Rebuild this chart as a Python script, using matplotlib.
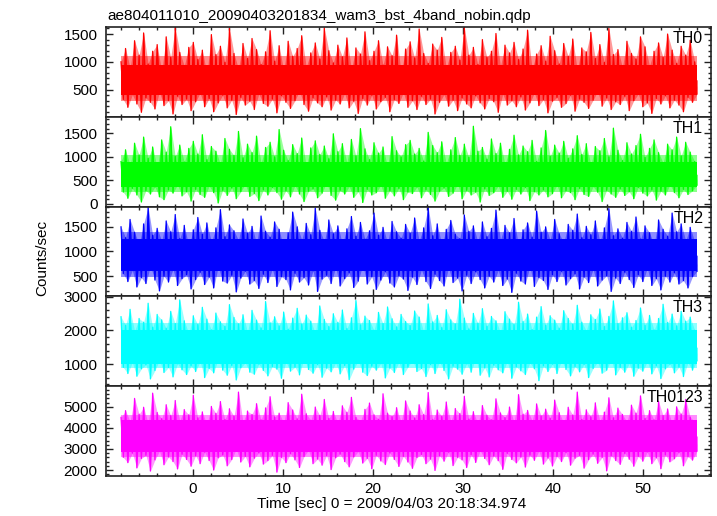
import numpy as np
import matplotlib
matplotlib.use("Agg")
import matplotlib.pyplot as plt
from matplotlib.ticker import MultipleLocator

# =====================================================
# DATA (max / min counts of each short chunk)
# =====================================================

t_start = -8.0
t_stop = 56.0

th0_hi = [1000, 1240, 890, 1380, 1120, 1520, 960, 1190, 1310, 820, 1450, 1080, 1620, 1170, 930, 1260,
          1350, 1040, 1210, 780, 1490, 1130, 1280, 990, 1600, 1150, 870, 1330, 1060, 1420, 1220, 950,
          1180, 1560, 1010, 1290, 840, 1370, 1100, 1240, 1470, 910, 1160, 1340, 1050, 1610, 1200, 980,
          1300, 1090, 1430, 860, 1250, 1140, 1540, 1020, 1190, 1380, 940, 1270, 1110, 1480, 800, 1230,
          1360, 1070, 1590, 1150, 970, 1320, 1210, 1440, 890, 1170, 1280, 1030, 1620, 1120, 1260, 950,
          1400, 1080, 1190, 1510, 920, 1300, 1160, 1350, 1040, 1230, 1570, 880, 1140, 1290, 1010, 1460,
          1200, 960, 1330, 1100, 1410, 850, 1250, 1180, 1530, 1060, 1310, 990, 1600, 1130, 1220, 900,
          1370, 1150, 1050, 1450, 1270, 930, 1190, 1340, 1080, 1500, 1210, 970, 1280, 1120, 1390, 1000]
th0_lo = [320, 180, 410, 240, 90, 350, 270, 150, 460, 210, 300, 60, 380, 230, 330, 120,
          280, 440, 190, 340, 100, 260, 400, 170, 310, 50, 360, 220, 290, 140, 420, 250,
          200, 330, 80, 390, 270, 160, 300, 480, 230, 110, 350, 260, 190, 370, 130, 310,
          240, 430, 170, 290, 70, 340, 220, 400, 150, 280, 360, 100, 320, 250, 450, 180,
          300, 140, 380, 230, 330, 60, 270, 410, 200, 310, 120, 350, 240, 170, 390, 260,
          150, 340, 280, 90, 420, 220, 300, 190, 370, 130, 260, 440, 210, 320, 80, 290,
          360, 180, 250, 400, 110, 330, 270, 160, 310, 470, 200, 350, 140, 280, 230, 380,
          120, 300, 420, 190, 260, 70, 340, 240, 390, 170, 310, 220, 100, 360, 270, 420]

th1_hi = [900, 1150, 820, 1290, 1040, 1420, 970, 1210, 760, 1360, 1100, 1640, 1010, 1250, 890, 1180,
          1330, 1060, 1470, 940, 1220, 1120, 850, 1390, 1160, 1030, 1540, 980, 1270, 1090, 1440, 870,
          1200, 1310, 1000, 1580, 1140, 920, 1260, 1070, 1400, 800, 1190, 1340, 1050, 1230, 960, 1490,
          1110, 1280, 880, 1370, 1020, 1600, 1170, 940, 1300, 1080, 1210, 780, 1430, 1130, 1000, 1260,
          1350, 1060, 1180, 910, 1520, 1240, 1090, 1320, 860, 1150, 1410, 1030, 1270, 990, 1650, 1120,
          1200, 950, 1380, 1070, 1290, 840, 1160, 1460, 1040, 1230, 1110, 1350, 900, 1190, 1560, 1010,
          1250, 1080, 1330, 970, 1170, 1450, 1050, 1280, 830, 1220, 1130, 1390, 1000, 1610, 1140, 920,
          1300, 1060, 1240, 1480, 990, 1180, 1360, 1090, 870, 1270, 1150, 1420, 1020, 1310, 1100, 900]
th1_lo = [250, 120, 330, 190, 40, 280, 210, 360, 150, 90, 300, 230, 410, 170, 260, 60,
          310, 200, 140, 380, 240, 20, 290, 180, 340, 110, 260, 420, 160, 220, 70, 300,
          190, 350, 240, 100, 280, 150, 390, 210, 50, 270, 320, 130, 230, 460, 180, 80,
          290, 210, 370, 140, 260, 30, 310, 190, 240, 400, 120, 280, 170, 330, 90, 250,
          220, 360, 130, 300, 200, 60, 270, 340, 160, 230, 430, 110, 290, 190, 250, 40,
          320, 180, 240, 380, 140, 270, 100, 310, 210, 350, 70, 260, 190, 300, 150, 220,
          400, 130, 280, 240, 90, 330, 200, 160, 370, 250, 50, 290, 210, 140, 320, 180,
          260, 110, 350, 230, 170, 300, 80, 270, 190, 410, 240, 130, 310, 200, 280, 400]

th2_hi = [1500, 1280, 1650, 1390, 1140, 1560, 1900, 1330, 1470, 1210, 1620, 1400, 1750, 1260, 1530, 1100,
          1440, 1690, 1350, 1580, 1190, 1480, 1850, 1300, 1540, 1420, 1230, 1660, 1370, 1510, 1160, 1720,
          1410, 1290, 1600, 1450, 1060, 1380, 1800, 1500, 1240, 1570, 1340, 1880, 1430, 1200, 1640, 1360,
          1520, 1150, 1460, 1710, 1310, 1590, 1250, 1420, 1780, 1330, 1490, 1180, 1610, 1400, 1270, 1550,
          1370, 1680, 1220, 1480, 1900, 1320, 1560, 1130, 1450, 1630, 1350, 1260, 1740, 1410, 1520, 1190,
          1600, 1300, 1470, 1840, 1240, 1530, 1380, 1670, 1110, 1440, 1580, 1290, 1820, 1390, 1500, 1230,
          1650, 1360, 1180, 1550, 1430, 1760, 1280, 1510, 1340, 1620, 1200, 1480, 1870, 1320, 1460, 1270,
          1590, 1410, 1700, 1250, 1520, 1380, 1140, 1640, 1450, 1310, 1780, 1400, 1560, 1220, 1490, 1200]
th2_lo = [550, 390, 620, 280, 470, 350, 710, 420, 200, 500, 380, 640, 310, 450, 530, 240,
          430, 580, 330, 480, 260, 690, 400, 360, 520, 180, 460, 600, 340, 410, 250, 540,
          370, 650, 290, 490, 430, 220, 560, 380, 470, 320, 610, 190, 440, 520, 350, 680,
          300, 450, 570, 270, 400, 730, 340, 490, 230, 420, 590, 360, 280, 510, 440, 210,
          480, 330, 630, 390, 250, 540, 410, 300, 670, 370, 460, 200, 520, 350, 590, 430,
          260, 500, 380, 620, 310, 440, 170, 560, 400, 340, 700, 290, 470, 410, 230, 530,
          390, 600, 320, 450, 550, 240, 480, 370, 640, 300, 420, 510, 190, 460, 350, 580,
          430, 270, 530, 390, 660, 310, 450, 220, 500, 380, 570, 340, 410, 260, 490, 600]

th3_hi = [2400, 2150, 2620, 1980, 2350, 2240, 2800, 2090, 2470, 2310, 2060, 2560, 2200, 2900, 2280, 1900,
          2430, 2170, 2680, 2330, 2010, 2510, 2250, 2120, 2760, 2380, 2190, 2460, 1950, 2590, 2300, 2070,
          2850, 2220, 2400, 2130, 2540, 2030, 2360, 2650, 2180, 2450, 2270, 1920, 2720, 2320, 2110, 2490,
          2230, 2600, 2050, 2370, 2880, 2160, 2420, 2290, 2000, 2530, 2200, 2690, 2340, 2100, 2470, 2260,
          2140, 2570, 2390, 1970, 2780, 2250, 2440, 2080, 2610, 2310, 2190, 2920, 2360, 2040, 2500, 2210,
          2640, 2120, 2410, 2280, 1940, 2550, 2330, 2170, 2830, 2260, 2480, 2020, 2390, 2700, 2150, 2430,
          2300, 2060, 2580, 2350, 2180, 2740, 2240, 1990, 2460, 2320, 2630, 2110, 2410, 2870, 2200, 2370,
          2520, 2090, 2290, 2660, 2150, 2440, 2010, 2350, 2770, 2230, 2480, 2130, 2560, 2270, 2390, 2000]
th3_lo = [900, 720, 1050, 640, 860, 980, 560, 810, 1120, 750, 900, 620, 1010, 830, 690, 950,
          780, 1080, 600, 870, 740, 1150, 820, 670, 960, 530, 890, 1040, 760, 700, 1000, 810,
          650, 930, 850, 580, 1070, 790, 910, 680, 1180, 840, 730, 990, 610, 880, 770, 1030,
          710, 960, 540, 850, 1100, 760, 660, 940, 820, 1020, 590, 880, 750, 1060, 690, 910,
          1130, 780, 870, 630, 990, 720, 1070, 810, 560, 940, 850, 700, 1010, 760, 1200, 670,
          890, 620, 970, 830, 740, 1090, 580, 920, 800, 690, 1040, 860, 510, 950, 780, 1000,
          720, 1110, 840, 650, 930, 770, 990, 600, 870, 1060, 730, 820, 1150, 680, 900, 760,
          1020, 640, 880, 790, 1080, 710, 950, 570, 860, 1000, 740, 910, 630, 1040, 820, 1100]

th0123_hi = [4500, 4820, 4310, 5400, 4650, 4980, 4200, 5650, 4730, 4440, 5100, 4580, 5300, 4350, 4870, 4620,
             5550, 4480, 4760, 4150, 5020, 4690, 5250, 4400, 4910, 4560, 5700, 4280, 4800, 4640, 5150, 4380,
             4950, 5480, 4520, 4700, 4240, 5200, 4850, 4430, 5600, 4670, 4360, 4990, 4590, 5350, 4450, 4780,
             4210, 5050, 4740, 5450, 4500, 4330, 4880, 5180, 4620, 4410, 5620, 4700, 4540, 4960, 4270, 5280,
             4800, 4470, 5100, 4630, 5680, 4390, 4850, 4550, 5230, 4300, 4920, 4680, 5500, 4420, 4770, 4180,
             5060, 4600, 4380, 5380, 4710, 4490, 4990, 4260, 5580, 4650, 4830, 4350, 5140, 4570, 4890, 4460,
             5320, 4720, 4230, 4980, 4610, 5700, 4400, 4860, 4530, 5190, 4340, 4750, 5430, 4480, 4940, 4640,
             4290, 5080, 4700, 5520, 4450, 4820, 4380, 5260, 4590, 4900, 4200, 5000, 4660, 5350, 4510, 4300]
th0123_lo = [2600, 2350, 2800, 2100, 2550, 2700, 1950, 2480, 2900, 2250, 2620, 2400, 2050, 2750, 2500, 2180,
             2680, 2300, 2850, 2450, 2000, 2580, 2720, 2200, 2500, 3000, 2380, 2650, 2150, 2560, 2820, 2280,
             2450, 2700, 1900, 2600, 2350, 2780, 2480, 2120, 2640, 2950, 2300, 2520, 2230, 2690, 2020, 2580,
             2760, 2400, 2150, 2620, 2880, 2330, 2550, 2060, 2700, 2430, 2260, 2810, 2500, 2170, 2650, 2380,
             2080, 2590, 2740, 2300, 2520, 1980, 2680, 2420, 2850, 2210, 2600, 2480, 2120, 2730, 2360, 2920,
             2550, 2250, 2670, 2440, 2030, 2790, 2500, 2340, 2620, 2140, 2710, 2460, 2900, 2280, 2570, 2190,
             2640, 2400, 2830, 2230, 2560, 2700, 2090, 2490, 2760, 2320, 2600, 1960, 2680, 2450, 2270, 2790,
             2510, 2180, 2650, 2420, 2860, 2300, 2580, 2060, 2720, 2390, 2540, 2840, 2200, 2630, 2470, 2900]

# fully solid part of each curve, and the wider mostly-filled part around it
core_lo = [400, 360, 600, 1000, 2850]
core_hi = [950, 900, 1250, 2000, 4380]
dense_lo = [300, 260, 480, 880, 2600]
dense_hi = [1100, 1030, 1400, 2220, 4600]

band_names = ["TH0", "TH1", "TH2", "TH3", "TH0123"]
band_colors = ["#ff0000", "#00ff00", "#0000ff", "#00ffff", "#ff00ff"]
band_hi = [th0_hi, th1_hi, th2_hi, th3_hi, th0123_hi]
band_lo = [th0_lo, th1_lo, th2_lo, th3_lo, th0123_lo]

y_limits = [(9, 1627), (-57, 1851), (89, 1911), (345, 3003), (1716, 5980)]
y_major = [500, 500, 500, 1000, 1000]
y_minor = [100, 100, 100, 200, 200]

title = "ae804011010_20090403201834_wam3_bst_4band_nobin.qdp"
x_label = "Time [sec] 0 = 2009/04/03 20:18:34.974"
y_label = "Counts/sec"

# =====================================================
# PLOT
# =====================================================

plt.rcParams["font.family"] = ["Liberation Sans", "DejaVu Sans"]

fig, axes = plt.subplots(5, 1, sharex=True, figsize=(7.17, 5.16), dpi=100)
fig.subplots_adjust(left=106 / 717, right=711 / 717,
                    top=1 - 27 / 516, bottom=1 - 476 / 516, hspace=0)

for i, ax in enumerate(axes):
    hi = np.asarray(band_hi[i], dtype=float)
    lo = np.asarray(band_lo[i], dtype=float)
    y = np.column_stack([hi, lo]).ravel()
    t = np.linspace(t_start, t_stop, len(y))
    c = band_colors[i]
    mid = (core_lo[i] + core_hi[i]) / 2

    # pale envelope through the chunk extremes
    ax.fill_between(t[0::2], hi, mid, color=c, alpha=0.4, lw=0)
    ax.fill_between(t[1::2], lo, mid, color=c, alpha=0.4, lw=0)
    # mostly-filled band, spikes filled down to the middle, solid core
    ax.fill_between([t_start, t_stop], dense_lo[i], dense_hi[i], color=c, alpha=0.45, lw=0)
    ax.fill_between(t, y, mid, color=c, lw=0)
    ax.fill_between([t_start, t_stop], core_lo[i], core_hi[i], color=c, lw=0)
    ax.plot(t, y, color=c, lw=0.9)

    ax.set_ylim(*y_limits[i])
    ax.yaxis.set_major_locator(MultipleLocator(y_major[i]))
    ax.yaxis.set_minor_locator(MultipleLocator(y_minor[i]))
    ax.xaxis.set_major_locator(MultipleLocator(10))
    ax.xaxis.set_minor_locator(MultipleLocator(2))

    ax.tick_params(which="both", direction="in", top=True, right=True,
                   labelsize=11, color="#222222", width=1.0)
    ax.tick_params(which="major", length=5, pad=6)
    ax.tick_params(which="minor", length=2.5)
    ax.tick_params(axis="x", which="major", pad=4)

    for sp in ax.spines.values():
        sp.set_linewidth(1.2)
        sp.set_color("#222222")

    ax.text(0.987, 0.955, band_names[i], transform=ax.transAxes,
            ha="right", va="top", fontsize=11.5)

axes[-1].set_xlim(-9.67, 57.56)

fig.text(107 / 717, 1 - 20 / 516, title, ha="left", va="baseline", fontsize=11)
fig.text(392 / 717, 1 - 504 / 516, x_label, ha="center", va="center", fontsize=11)
fig.text(42 / 717, 1 - 258 / 516, y_label, ha="center", va="center",
         rotation=90, fontsize=11)

fig.savefig("out.png", dpi=100)
